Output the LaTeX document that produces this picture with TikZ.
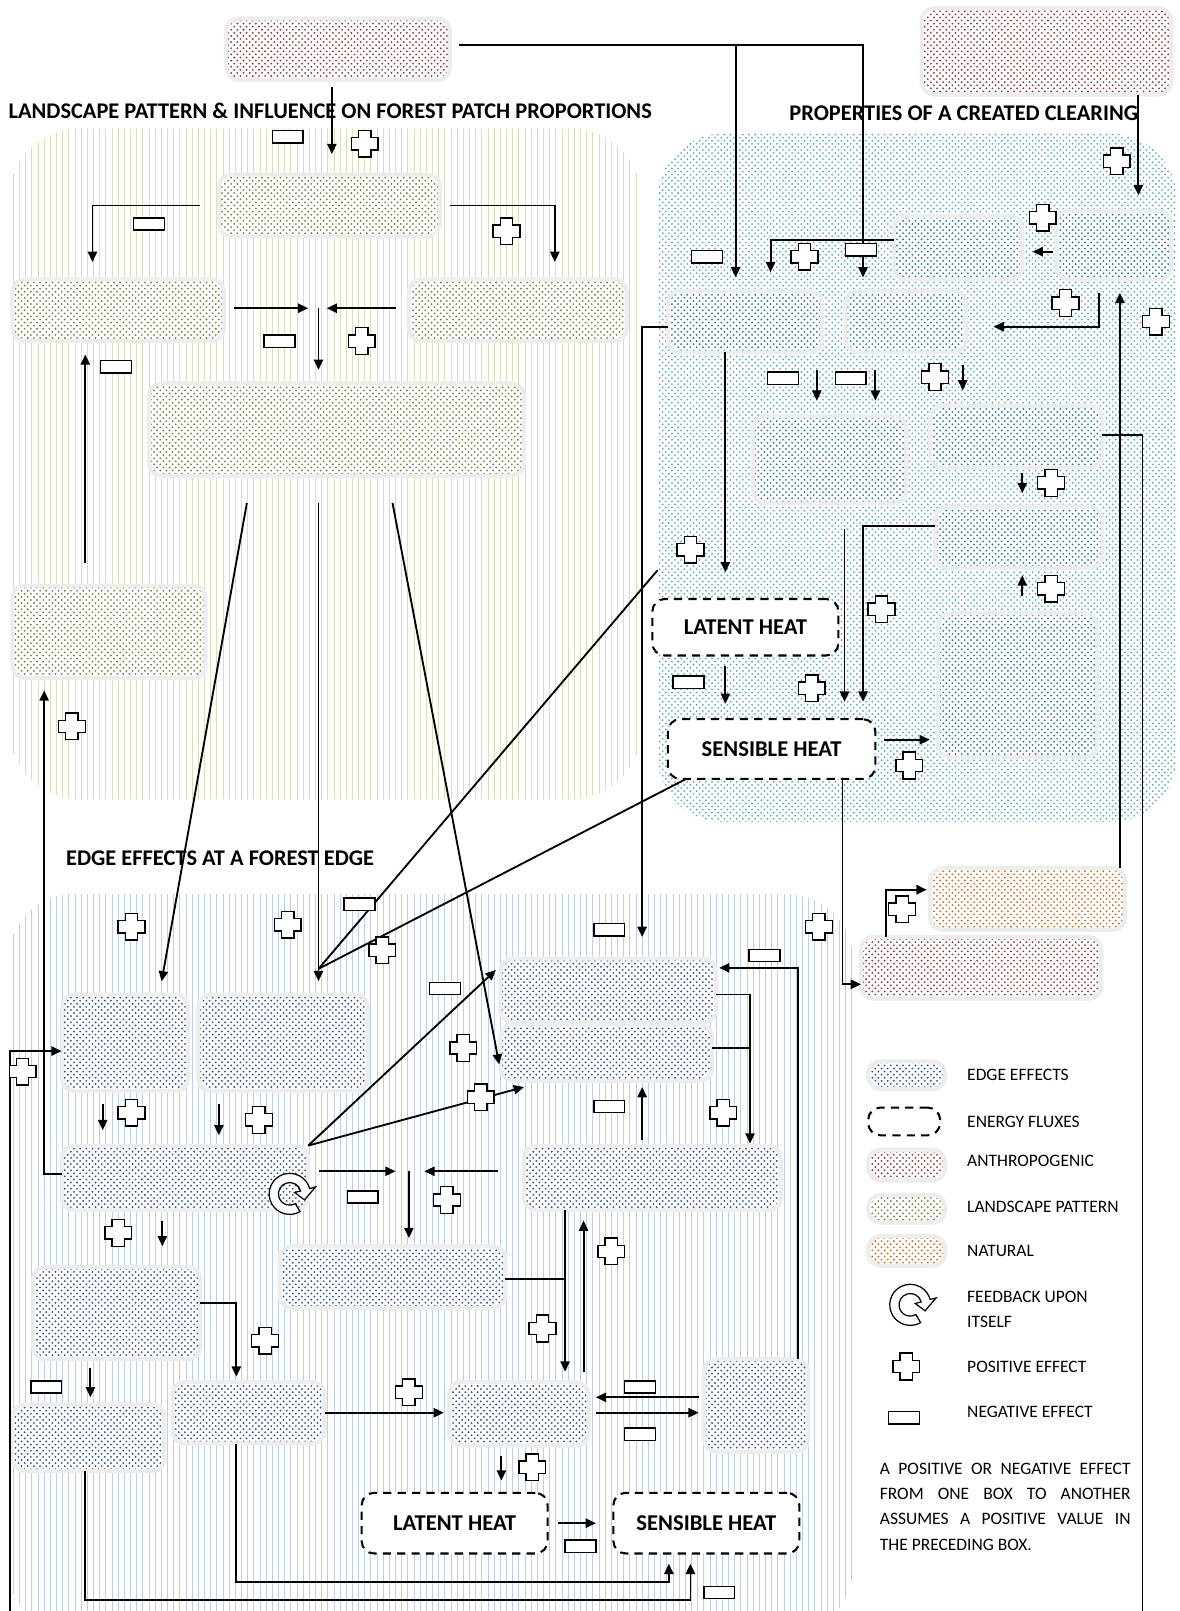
\documentclass[tikz,border=0pt]{standalone}
\usepackage{fontspec}
\setmainfont{Carlito}
\usetikzlibrary{
    arrows.meta,
    patterns,
    calc,
    positioning
}
\definecolor{anthcol}{RGB}{140,60,60}
\definecolor{landcol}{RGB}{125,125,70}
\definecolor{clearcol}{RGB}{45,120,150}
\definecolor{edgecol}{RGB}{50,80,140}
\definecolor{natcol}{RGB}{205,105,35}
\definecolor{landbg}{RGB}{222,220,188}
\definecolor{clearbg}{RGB}{95,170,195}
\definecolor{edgebg}{RGB}{190,206,232}

\tikzset{
    sz/.style 2 args={minimum width=#1*0.5pt, minimum height=#2*0.5pt},
    anybox/.style={rounded corners=6pt, draw=black!7, line width=2pt,
        inner sep=0pt, outer sep=0pt, preaction={fill=white}},
    edgebox/.style={anybox, pattern=crosshatch dots, pattern color=edgecol},
    landbox/.style={anybox, pattern=crosshatch dots, pattern color=landcol},
    clearbox/.style={anybox, pattern=crosshatch dots, pattern color=clearcol},
    anthbox/.style={anybox, pattern=crosshatch dots, pattern color=anthcol},
    natbox/.style={anybox, pattern=crosshatch dots, pattern color=natcol},
    fluxbox/.style={rounded corners=6pt, draw, dash pattern=on 4pt off 3pt,
        line width=1pt, fill=white, inner sep=0pt, outer sep=0pt,
        font=\bfseries\fontsize{11}{12}\selectfont},
    titletxt/.style={inner sep=0pt, anchor=west,
        font=\bfseries\fontsize{10.9}{12}\selectfont},
    legtxt/.style={inner sep=0pt, anchor=west, font=\fontsize{8.5}{12.2}\selectfont},
    arr/.style={line width=0.9pt, -{Triangle[length=5pt,width=4.5pt]}},
    conn/.style={line width=0.9pt},
    pics/plusmark/.style={code={
        \draw[fill=white, line width=0.7pt] (-6,-13) -- (6,-13) -- (6,-6) -- (13,-6)
            -- (13,6) -- (6,6) -- (6,13) -- (-6,13) -- (-6,6) -- (-13,6) -- (-13,-6)
            -- (-6,-6) -- cycle;}},
    pics/minusmark/.style={code={
        \draw[fill=white, line width=0.7pt] (-15,-6) rectangle (15,6);}},
    pics/feedback/.style={code={
        \draw[fill=white, line width=0.6pt] (60:20) arc[start angle=60, end angle=345, radius=20]
            -- (345:26) -- (22:15.5) -- (345:5) -- (345:11)
            arc[start angle=345, end angle=60, radius=11] -- cycle;}}
}

\begin{document}
\begin{tikzpicture}[x=0.5pt, y=-0.5pt]
    \useasboundingbox (0,0) rectangle (1148,1568);

    % backgrounds of the three parts
    \path[rounded corners=35pt, pattern=vertical lines, pattern color=landbg] (8,125) rectangle (625,778);
    \path[rounded corners=32pt, pattern=crosshatch dots, pattern color=clearbg] (640,130) rectangle (1145,800);
    \path[rounded corners=32pt, pattern=vertical lines, pattern color=edgebg] (8,870) rectangle (830,1590);

    \node[titletxt] (tland) at (8,108) {LANDSCAPE PATTERN \& INFLUENCE ON FOREST PATCH PROPORTIONS};
    \node[titletxt] (tclear) at (768,110) {PROPERTIES OF A CREATED CLEARING};
    \node[titletxt] (tedge) at (64,835) {EDGE EFFECTS AT A FOREST EDGE};

    % anthropogenic and natural
    \node[anthbox, sz={218}{60}] (A1) at (329,48) {};
    \node[anthbox, sz={243}{84}] (A2) at (1018.5,50) {};
    \node[anthbox, sz={234}{60}] (A3) at (955,942) {};
    \node[natbox, sz={190}{60}] (N1) at (1000,875) {};

    % landscape pattern
    \node[landbox, sz={215}{60}] (L1) at (320.5,200) {};
    \node[landbox, sz={206}{60}] (L2) at (115,302) {};
    \node[landbox, sz={212}{60}] (L3) at (504,302) {};
    \node[landbox, sz={365}{90}] (L4) at (327.5,418) {};
    \node[landbox, sz={188}{90}] (L5) at (106,615) {};

    % clearing
    \node[clearbox, sz={125}{62}] (C1) at (932.5,241) {};
    \node[clearbox, sz={112}{67}] (C2) at (1084,238.5) {};
    \node[clearbox, sz={150}{60}] (C3) at (725,313) {};
    \node[clearbox, sz={117}{60}] (C4) at (881.5,313) {};
    \node[clearbox, sz={149}{85}] (C5) at (807.5,447.5) {};
    \node[clearbox, sz={168}{60}] (C6) at (989,425) {};
    \node[clearbox, sz={163}{60}] (C7) at (991.5,523) {};
    \node[clearbox, sz={155}{140}] (C8) at (990.5,667) {};
    \node[fluxbox, sz={181}{55}] (E1) at (725.5,610.5) {LATENT HEAT};
    \node[fluxbox, sz={202}{58}] (E2) at (751,729) {SENSIBLE HEAT};

    % edge effects
    \node[edgebox, sz={123}{94}] (B1) at (121.5,1015) {};
    \node[edgebox, sz={165}{94}] (B2) at (275.5,1015) {};
    \node[edgebox, sz={240}{63}] (B3) at (180,1146.5) {};
    \node[edgebox, sz={210}{62}] (B4) at (592,964) {};
    \node[edgebox, sz={206}{55}] (B5) at (590,1024.5) {};
    \node[edgebox, sz={250}{63}] (B6) at (635,1146.5) {};
    \node[edgebox, sz={220}{60}] (B7) at (382,1243) {};
    \node[edgebox, sz={163}{90}] (B8) at (113.5,1278) {};
    \node[edgebox, sz={148}{60}] (B9) at (242,1375) {};
    \node[edgebox, sz={148}{65}] (B10) at (86,1399.5) {};
    \node[edgebox, sz={136}{62}] (B11) at (505,1376) {};
    \node[edgebox, sz={102}{90}] (B12) at (736,1368) {};
    \node[fluxbox, sz={181}{59}] (E3) at (442.5,1482.5) {LATENT HEAT};
    \node[fluxbox, sz={181}{59}] (E4) at (687.5,1482.5) {SENSIBLE HEAT};
    \pic at (282,1162) {feedback};

    % connectors, top part
    \draw[arr, shorten <=3.5pt, shorten >=10pt] (A1.south -| 323,0) -- (L1.north -| 323,0);
    \draw[arr, shorten <=4.5pt, shorten >=6.5pt] (A1.east |- 0,44) -| (C4.north -| 840,0);
    \coordinate (jA) at (716,44);
    \draw[arr, shorten >=6.5pt] (jA) -- (C3.north -| jA);
    \draw[arr, shorten >=7.5pt] (A2.south -| 1108,0) -- (C2.north -| 1108,0);
    \draw[arr, shorten <=9pt, shorten >=8.5pt] (L1.west) -| (L2.north -| 90,0);
    \draw[arr, shorten <=5pt, shorten >=8.5pt] (L1.east) -| (L3.north -| 540,0);
    \coordinate (jL) at (310,300);
    \draw[arr, shorten <=5pt, shorten >=5pt] (L2.east |- jL) -- (jL);
    \draw[arr, shorten <=6.5pt, shorten >=4pt] (L3.west |- jL) -- (jL);
    \draw[arr, shorten >=6.5pt] (jL) -- (L4.north -| jL);
    \draw[arr, shorten <=11pt, shorten >=6.5pt] (L5.north -| 83,0) -- (L2.south -| 83,0);
    \draw[arr, shorten <=13.5pt, shorten >=6.5pt] (L4.south -| 245,0) -- (B1.north -| 155,0);
    \draw[arr, shorten <=13.5pt, shorten >=6.5pt] (L4.south -| 310,0) -- (B2.north -| 310,0);
    \draw[arr, shorten <=13.5pt, shorten >=3pt] (L4.south -| 377,0) -- (B5.west |- 0,1042);
    \draw[arr, shorten >=6pt] (B3.west |- 0,1143) -| (L5.south -| 43,0);
    \draw[arr] (C6.east |- 0,423) -| (1112,1585) -| (10,1023) -- (B1.west |- 0,1023);

    % clearing
    \draw[arr, shorten <=1.5pt, shorten >=5pt] (C2.west |- 0,245) -- (C1.east |- 0,245);
    \draw[arr, shorten >=9pt] (C1.west |- 0,234) -| (C3.north -| 750,0);
    \draw[arr, shorten <=6.5pt, shorten >=13.5pt] (C2.south -| 1070,0) |- (C4.east |- 0,318);
    \draw[arr, shorten >=6.5pt] (N1.north -| 1090,0) -- (C2.south -| 1090,0);
    \draw[arr, shorten >=13pt] (C3.south -| 706,0) -- (E1.north -| 706,0);
    \draw[arr, shorten >=10.5pt] (C3.west |- 0,318) -| (B4.north -| 625,0);
    \draw[arr, shorten <=8.5pt, shorten >=7.5pt] (C3.south -| 795,0) -- (C5.north -| 795,0);
    \draw[arr, shorten <=8.5pt, shorten >=7.5pt] (C4.south -| 852,0) -- (C5.north -| 852,0);
    \draw[arr, shorten <=6pt, shorten >=7.5pt] (C4.south -| 937,0) -- (C6.north -| 937,0);
    \draw[arr, shorten <=2.5pt, shorten >=6.5pt] (C6.south -| 995,0) -- (C7.north -| 995,0);
    \draw[arr, shorten <=8.5pt, shorten >=3.5pt] (C8.north -| 995,0) -- (C7.south -| 995,0);
    \draw[arr, shorten >=8.5pt] (C7.west |- 0,512) -| (E2.north -| 840,0);
    \draw[arr, shorten <=12.5pt, shorten >=8.5pt] (C5.south -| 822,0) -- (E2.north -| 822,0);
    \draw[arr, shorten <=5pt, shorten >=7.5pt] (E1.south -| 706,0) -- (E2.north -| 706,0);
    \draw[arr, shorten <=4pt, shorten >=4pt] (E2.east |- 0,720) -- (C8.west |- 0,720);
    \draw[arr] (E2.south -| 820,0) |- (A3.west |- 0,958);
    \draw[arr, shorten >=1.5pt] (A3.north -| 862,0) |- (N1.west |- 0,866);
    \coordinate (jB) at (310,943);
    \draw[conn] ($(E1.north west)+(5,-28)$) -- (jB);
    \draw[conn] ($(E2.south west)+(18,0)$) -- (jB);

    % edge effects
    \draw[arr, shorten <=6.5pt, shorten >=7.5pt] (B1.south -| 100,0) -- (B3.north -| 100,0);
    \draw[arr, shorten <=6.5pt, shorten >=5pt] (B2.south -| 213,0) -- (B3.north -| 213,0);
    \draw[arr, shorten >=3pt] (B3.north east) -- (B4.west |- 0,940);
    \draw[arr] (B3.north east) -- ($(B5.south west)+(23,6)$);
    \coordinate (jE) at (398,1140);
    \draw[arr, shorten <=5pt, shorten >=6.5pt] (B3.east |- jE) -- (jE);
    \draw[arr, shorten <=12.5pt, shorten >=7.5pt] (B6.west |- jE) -- (jE);
    \draw[arr, shorten >=4pt] (jE) -- (B7.north -| jE);
    \draw[arr, shorten <=2.5pt, shorten >=3pt] (B6.north -| 625,0) -- (B5.south -| 625,0);
    \draw[arr, shorten >=1pt] (B4.east |- 0,968) -| (B6.north -| 730,0);
    \coordinate (jF) at (730,1020);
    \draw[conn] (B5.east |- jF) -- (jF);
    \draw[arr, shorten >=1.5pt] (B12.north -| 777,0) |- (B4.east |- 0,942);
    \coordinate (jG) at (550,1245);
    \draw[conn] (B7.east |- jG) -- (jG);
    \draw[arr, shorten >=5pt] (B6.south -| jG) -- (B11.north -| jG);
    \draw[arr, shorten <=5pt, shorten >=5pt] (B11.north -| 568,0) -- (B6.south -| 568,0);
    \draw[arr, shorten <=2.5pt, shorten >=3.5pt] (B12.west |- 0,1360) -- (B11.east |- 0,1360);
    \draw[arr, shorten <=3.5pt, shorten >=2.5pt] (B11.east |- 0,1375) -- (B12.west |- 0,1375);
    \draw[arr, shorten <=5pt, shorten >=6pt] (B11.south -| 488,0) -- (E3.north -| 488,0);
    \draw[arr, shorten <=5pt, shorten >=8.5pt] (E3.east) -- (E4.west);
    \draw[arr, shorten <=4pt, shorten >=3.5pt] (B8.south -| 88,0) -- (B10.north -| 88,0);
    \draw[arr, shorten >=2.5pt] (B8.east |- 0,1268) -| (B9.north -| 230,0);
    \draw[arr, shorten >=2.5pt] (B9.east |- 0,1375) -- (B11.west |- 0,1375);
    \draw[arr, shorten <=5pt, shorten >=10pt] (B3.south -| 158,0) -- (B8.north -| 158,0);
    \draw[arr, shorten >=5pt] (B9.south -| 230,0) -- (230,1540) -| (E4.south -| 651,0);
    \draw[arr, shorten >=5pt] (B10.south -| 83,0) -- (83,1557) -| (E4.south -| 672,0);

    % signs of the effects
    \foreach \p in {(355,140), (493,225), (352,332), (1087,157), (1015,212), (783,250),
        (1037,295), (1125,313), (910,367), (1023,470), (672,535), (1023,573), (858,593),
        (790,670), (885,745), (70,707), (878,885), (128,902), (280,900), (372,925),
        (797,902), (451,1020), (468,1068), (22,1043), (128,1083), (252,1090), (704,1083),
        (115,1200), (435,1168), (595,1218), (258,1305), (528,1293), (398,1355), (518,1428)}
        \pic at \p {plusmark};
    \foreach \m in {(280,133), (145,218), (272,332), (113,357), (688,250), (838,243),
        (762,368), (828,368), (670,664), (350,880), (593,905), (744,930), (433,962),
        (593,1077), (353,1165), (45,1350), (623,1350), (623,1396), (565,1505), (700,1550)}
        \pic at \m {minusmark};

    % legend
    \node[edgebox, sz={75}{27}] (lgE) at (882.5,1046.5) {};
    \node[legtxt, right=10.5pt of lgE] (tE) {EDGE EFFECTS};
    \node[fluxbox, sz={70}{27}] (lgF) at (880,1091.5) {};
    \node[legtxt, right=13pt of lgF] (tF) {ENERGY FLUXES};
    \node[anthbox, sz={75}{30}] (lgA) at (882.5,1134) {};
    \node[legtxt, right=10.5pt of lgA, yshift=2pt] (tA) {ANTHROPOGENIC};
    \node[landbox, sz={75}{27}] (lgL) at (882.5,1176.5) {};
    \node[legtxt, right=10.5pt of lgL, yshift=1pt] (tL) {LANDSCAPE PATTERN};
    \node[natbox, sz={75}{29}] (lgN) at (882.5,1217.5) {};
    \node[legtxt, right=10.5pt of lgN] (tN) {NATURAL};
    \pic at (886,1270) {feedback};
    \node[legtxt, align=left] (tB) at (941,1274) {FEEDBACK UPON\\ITSELF};
    \pic at (882,1330) {plusmark};
    \node[legtxt] (tP) at (941,1330) {POSITIVE EFFECT};
    \pic at (880,1380) {minusmark};
    \node[legtxt] (tM) at (941,1374) {NEGATIVE EFFECT};
    \node[legtxt, anchor=north west, text width=122pt, align=justify] (note) at (856,1424)
        {A POSITIVE OR NEGATIVE EFFECT\linebreak FROM ONE BOX TO ANOTHER\linebreak
        ASSUMES A POSITIVE VALUE IN\linebreak THE PRECEDING BOX.};
\end{tikzpicture}
\end{document}
